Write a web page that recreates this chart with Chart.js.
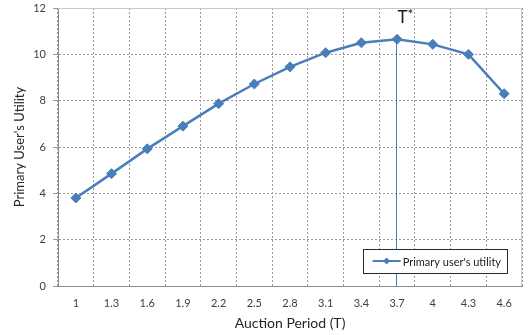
<!DOCTYPE html>
<html>
<head>
<meta charset="utf-8">
<script src="https://cdn.jsdelivr.net/npm/chart.js@4.4.1/dist/chart.umd.min.js"></script>
<style>
  html, body { margin: 0; padding: 0; background: #ffffff; }
  #wrap { width: 528px; height: 335px; position: relative; }
</style>
</head>
<body>
<div id="wrap"><canvas id="c" width="528" height="335"></canvas></div>
<script>
const categories = ['1', '1.3', '1.6', '1.9', '2.2', '2.5', '2.8', '3.1', '3.4', '3.7', '4', '4.3', '4.6'];
const utility = [3.8, 4.85, 5.92, 6.9, 7.87, 8.72, 9.46, 10.07, 10.5, 10.65, 10.43, 10.0, 8.3];
const seriesLabel = "Primary user's utility";
const optimumCategory = '3.7';
const optimumLabel = 'T';
const yMin = 0, yMax = 12, yStep = 2;

const FONT = 'Lato, "Open Sans", sans-serif';
const LINE_COLOR = '#4A7EBB';

const overlayPlugin = {
  id: 'overlay',
  beforeDatasetsDraw(chart) {
    const { ctx, chartArea: a } = chart;
    ctx.save();
    ctx.strokeStyle = '#C8C8C8';
    ctx.lineWidth = 1;
    ctx.beginPath();
    ctx.moveTo(a.left, a.top + 0.5);
    ctx.lineTo(a.right - 0.5, a.top + 0.5);
    ctx.lineTo(a.right - 0.5, a.bottom);
    ctx.stroke();
    const xs = chart.scales.x, ys = chart.scales.y;
    const idx = categories.indexOf(optimumCategory);
    const px = Math.round(xs.getPixelForValue(idx)) - 0.5;
    ctx.strokeStyle = LINE_COLOR;
    ctx.lineWidth = 1;
    ctx.beginPath();
    ctx.moveTo(px, ys.getPixelForValue(utility[idx]));
    ctx.lineTo(px, ys.getPixelForValue(yMin));
    ctx.stroke();
    ctx.fillStyle = '#1a1a1a';
    ctx.font = '17px ' + FONT;
    ctx.textAlign = 'left';
    ctx.textBaseline = 'alphabetic';
    ctx.fillText(optimumLabel, px + 1, a.top + 15);
    const tw = ctx.measureText(optimumLabel).width;
    ctx.font = '14px ' + FONT;
    ctx.fillText('*', px + 1 + tw, a.top + 11);
    ctx.restore();
  },
  afterDraw(chart) {
    const { ctx, chartArea: a } = chart;
    ctx.save();
    ctx.font = '11px ' + FONT;
    const tw = ctx.measureText(seriesLabel).width;
    const boxW = 10 + 28 + 2 + tw + 6;
    const boxH = 24;
    const right = a.right - 15;
    const bottom = a.bottom - 13;
    const left = right - boxW;
    const top = bottom - boxH;
    ctx.fillStyle = '#ffffff';
    ctx.fillRect(left, top, boxW, boxH);
    ctx.strokeStyle = '#2b2b2b';
    ctx.lineWidth = 1;
    ctx.strokeRect(Math.round(left) + 0.5, Math.round(top) + 0.5, Math.round(boxW), boxH);
    const cy = top + boxH / 2;
    const lx0 = left + 10, lx1 = left + 38;
    ctx.strokeStyle = LINE_COLOR;
    ctx.lineWidth = 2;
    ctx.beginPath();
    ctx.moveTo(lx0, cy);
    ctx.lineTo(lx1, cy);
    ctx.stroke();
    const mx = (lx0 + lx1) / 2, r = 3.5;
    ctx.fillStyle = LINE_COLOR;
    ctx.beginPath();
    ctx.moveTo(mx, cy - r);
    ctx.lineTo(mx + r, cy);
    ctx.lineTo(mx, cy + r);
    ctx.lineTo(mx - r, cy);
    ctx.closePath();
    ctx.fill();
    ctx.fillStyle = '#1a1a1a';
    ctx.textAlign = 'left';
    ctx.textBaseline = 'middle';
    ctx.fillText(seriesLabel, lx1 + 2, cy + 1);
    ctx.restore();
  }
};

new Chart(document.getElementById('c'), {
  type: 'line',
  data: {
    labels: categories,
    datasets: [{
      label: seriesLabel,
      data: utility,
      borderColor: LINE_COLOR,
      backgroundColor: LINE_COLOR,
      borderWidth: 2.5,
      pointStyle: 'rectRot',
      pointRadius: 5,
      pointBorderWidth: 1,
      pointBackgroundColor: LINE_COLOR,
      pointBorderColor: LINE_COLOR,
      tension: 0,
      fill: false
    }]
  },
  options: {
    responsive: false,
    animation: false,
    devicePixelRatio: 1,
    layout: { padding: { top: 8, right: 3, left: 0, bottom: 0 } },
    plugins: { legend: { display: false }, tooltip: { enabled: false } },
    scales: {
      x: {
        type: 'category',
        offset: true,
        grid: { offset: true, color: '#9a9a9a', lineWidth: 1, drawTicks: false },
        border: { display: true, color: '#8c8c8c', width: 1, dash: [2, 2] },
        ticks: { color: '#404040', font: { family: FONT, size: 11 }, padding: 11, maxRotation: 0, autoSkip: false },
        title: { display: true, text: 'Auction Period (T)', color: '#262626', font: { family: FONT, size: 14 }, padding: { top: 0, bottom: 3 } },
        afterFit(s) { s.height = 49; s.paddingLeft = 0; s.paddingRight = 0; }
      },
      y: {
        min: yMin, max: yMax,
        grid: { color: '#9a9a9a', lineWidth: 1, drawTicks: true, tickLength: 5 },
        border: { display: true, color: '#8c8c8c', width: 1, dash: [2, 2] },
        ticks: { stepSize: yStep, color: '#404040', font: { family: FONT, size: 11 }, padding: 7 },
        title: { display: true, text: "Primary User's Utility", color: '#262626', font: { family: FONT, size: 13 }, padding: { top: 12, bottom: 0 } },
        afterFit(s) { s.width = 58; s.paddingTop = 0; s.paddingBottom = 0; }
      }
    }
  },
  plugins: [overlayPlugin]
});
</script>
</body>
</html>
